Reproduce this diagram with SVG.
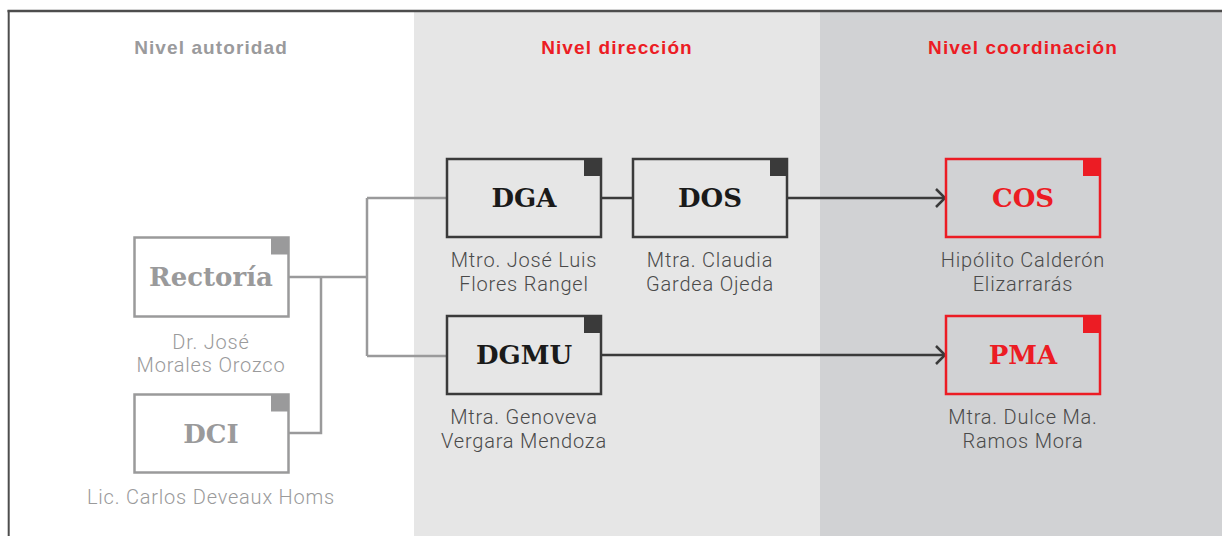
<svg xmlns="http://www.w3.org/2000/svg" width="1222" height="536" viewBox="0 0 1222 536">
<style>
.hd{font-family:"Liberation Sans",Arial,sans-serif;font-weight:bold;font-size:19px;text-anchor:middle;letter-spacing:1.1px}
.bx{fill:none;stroke-width:2.5}
.bt{font-family:"DejaVu Serif","Liberation Serif",serif;font-weight:bold;font-size:26px;text-anchor:middle}
.lb{font-family:Roboto,"Liberation Sans",sans-serif;font-weight:300;font-size:20px;text-anchor:middle;letter-spacing:0.8px}
.g{stroke:#9a9a9b}.gf{fill:#9a9a9b}
.d{stroke:#3a3a3a}.df{fill:#1a1a1a}
.r{stroke:#ec1c24}.rf{fill:#ec1c24}
.conn{fill:none;stroke-width:2.5}
</style>
<defs>
<marker id="arr" viewBox="0 0 12 20" refX="10" refY="10" markerWidth="12" markerHeight="20" markerUnits="userSpaceOnUse" orient="auto">
<path d="M1,1 L10,10 L1,19" fill="none" stroke="#3a3a3a" stroke-width="2.5"/>
</marker>
</defs>
<rect x="0" y="0" width="1222" height="536" fill="#ffffff"/>
<g id="bands">
<rect x="414" y="12" width="406" height="524" fill="#e6e6e6"/>
<rect x="820" y="12" width="402" height="524" fill="#d1d2d4"/>
<line x1="7.5" y1="11" x2="1222" y2="11" stroke="#4d4d4d" stroke-width="2.5"/>
<line x1="8.7" y1="10" x2="8.7" y2="536" stroke="#4d4d4d" stroke-width="2"/>
</g>
<g id="headers">
<text class="hd" x="211" y="54" fill="#9a9a9c">Nivel autoridad</text>
<text class="hd" x="617" y="54" fill="#ec1c24">Nivel dirección</text>
<text class="hd" x="1023" y="54" fill="#ec1c24">Nivel coordinación</text>
</g>
<g id="connectors">
<path class="conn g" d="M289,277 H367 M367,198 V356 M367,198 H446 M367,356 H446 M321,277 V433 H289"/>
<path class="conn d" d="M601,198 H632"/>
<path class="conn d" d="M787,198 H945" marker-end="url(#arr)"/>
<path class="conn d" d="M601,355 H945" marker-end="url(#arr)"/>
</g>
<g id="rectoria">
<rect class="bx g" x="134.5" y="237.5" width="154" height="79" fill="#ffffff"/>
<rect class="gf" x="271" y="237.5" width="17.5" height="17"/>
<text class="bt gf" x="211" y="286">Rectoría</text>
<text class="lb" x="211" y="349" fill="#9a9a9b">Dr. José</text>
<text class="lb" x="211" y="372" fill="#9a9a9b">Morales Orozco</text>
</g>
<g id="dci">
<rect class="bx g" x="134.5" y="394.5" width="154" height="78" fill="#ffffff"/>
<rect class="gf" x="271" y="394.5" width="17.5" height="17"/>
<text class="bt gf" x="211" y="443">DCI</text>
<text class="lb" x="211" y="504" fill="#9a9a9b">Lic. Carlos Deveaux Homs</text>
</g>
<g id="dga">
<rect class="bx d" x="447" y="159" width="154" height="78" fill="#e6e6e6"/>
<rect fill="#3a3a3a" x="584" y="159" width="17" height="17"/>
<text class="bt df" x="524" y="207">DGA</text>
<text class="lb" x="524" y="267" fill="#4a4a4a">Mtro. José Luis</text>
<text class="lb" x="524" y="291" fill="#4a4a4a">Flores Rangel</text>
</g>
<g id="dos">
<rect class="bx d" x="633" y="159" width="154" height="78" fill="#e6e6e6"/>
<rect fill="#3a3a3a" x="770" y="159" width="17" height="17"/>
<text class="bt df" x="710" y="207">DOS</text>
<text class="lb" x="710" y="267" fill="#4a4a4a">Mtra. Claudia</text>
<text class="lb" x="710" y="291" fill="#4a4a4a">Gardea Ojeda</text>
</g>
<g id="dgmu">
<rect class="bx d" x="447" y="316" width="154" height="78" fill="#e6e6e6"/>
<rect fill="#3a3a3a" x="584" y="316" width="17" height="17"/>
<text class="bt df" x="524" y="364">DGMU</text>
<text class="lb" x="524" y="424" fill="#4a4a4a">Mtra. Genoveva</text>
<text class="lb" x="524" y="448" fill="#4a4a4a">Vergara Mendoza</text>
</g>
<g id="cos">
<rect class="bx r" x="946" y="159" width="154" height="78" fill="#d1d2d4"/>
<rect class="rf" x="1083" y="159" width="17" height="17"/>
<text class="bt rf" x="1023" y="207">COS</text>
<text class="lb" x="1023" y="267" fill="#4a4a4a">Hipólito Calderón</text>
<text class="lb" x="1023" y="291" fill="#4a4a4a">Elizarrarás</text>
</g>
<g id="pma">
<rect class="bx r" x="946" y="316" width="154" height="78" fill="#d1d2d4"/>
<rect class="rf" x="1083" y="316" width="17" height="17"/>
<text class="bt rf" x="1023" y="364">PMA</text>
<text class="lb" x="1023" y="424" fill="#4a4a4a">Mtra. Dulce Ma.</text>
<text class="lb" x="1023" y="448" fill="#4a4a4a">Ramos Mora</text>
</g>
</svg>
